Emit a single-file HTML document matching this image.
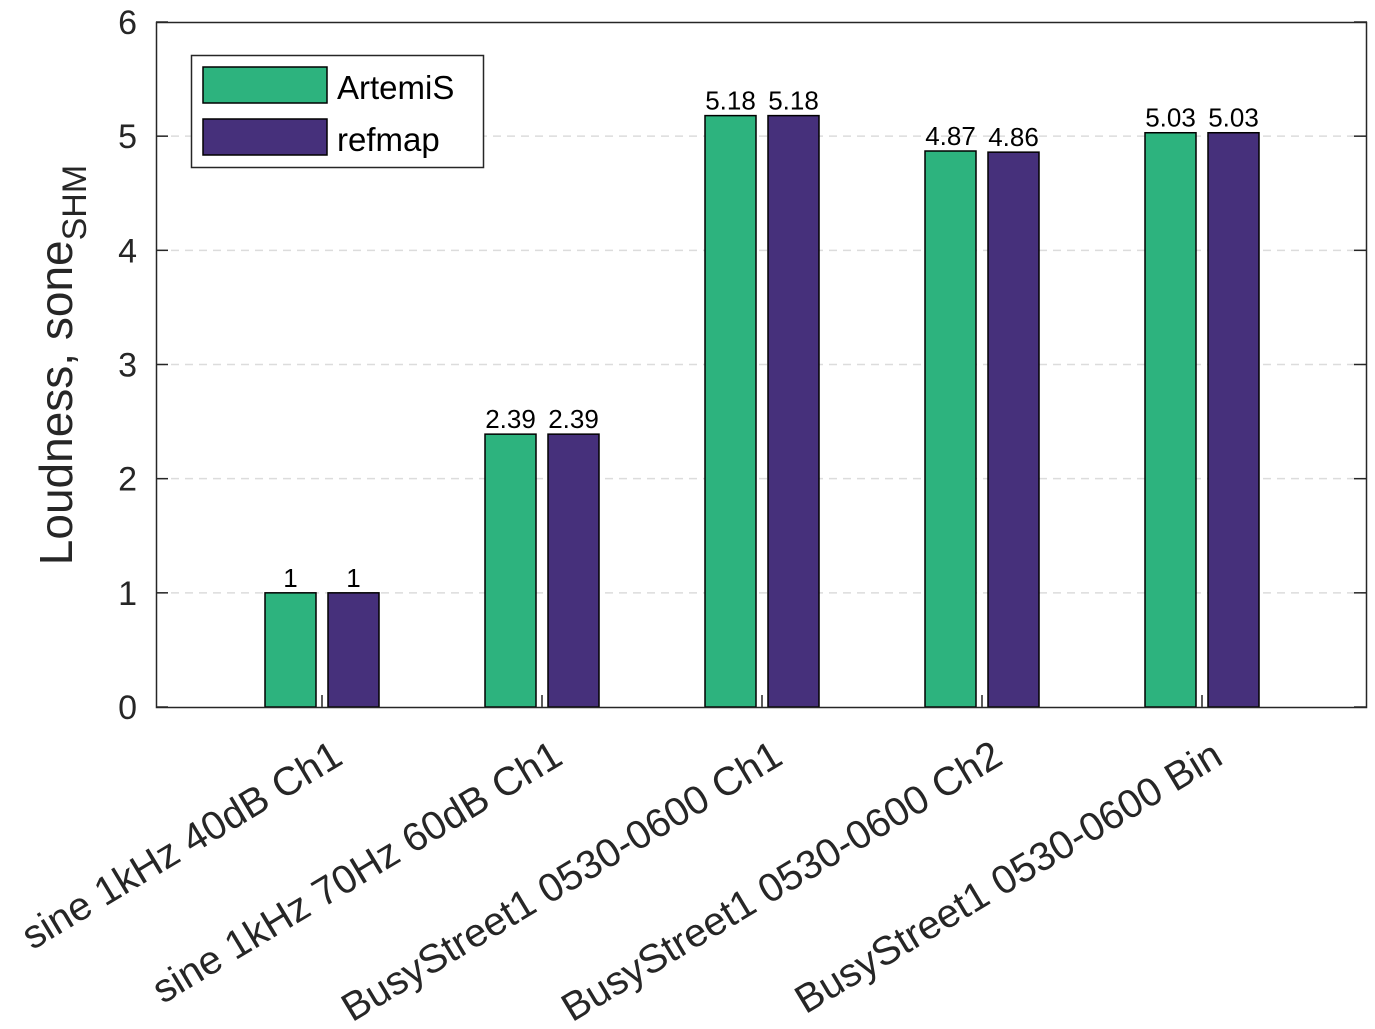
<!DOCTYPE html>
<html><head><meta charset="utf-8"><style>
html,body{margin:0;padding:0;background:#fff;}
svg{display:block;font-family:"Liberation Sans",Arial,sans-serif;}
</style></head><body>
<svg id="chart" width="1375" height="1029" viewBox="0 0 1375 1029">
<g id="grid"></g>
<g id="bars"></g>
<g id="vals"></g>
<rect x="156.5" y="22.5" width="1210" height="685" fill="none" stroke="#262626" stroke-width="1.5"/>
<g id="yticks"></g>
<g id="xticks"></g>
<text transform="translate(72,365) rotate(-90)" text-anchor="middle" font-size="46" fill="#262626">Loudness, sone<tspan font-size="34" dy="14">SHM</tspan></text>
<g>
<rect x="191.5" y="55.5" width="292" height="112" fill="#fff" stroke="#262626" stroke-width="1.5"/>
<rect x="203" y="67" width="124" height="36" fill="#2db37e" stroke="#000" stroke-width="1.5"/>
<text x="337" y="99" font-size="33" fill="#000">ArtemiS</text>
<rect x="203" y="119" width="124" height="36" fill="#46307b" stroke="#000" stroke-width="1.5"/>
<text x="337" y="151" font-size="33" fill="#000">refmap</text>
</g>
</svg>
<script>
const categories = ["sine 1kHz 40dB Ch1","sine 1kHz 70Hz 60dB Ch1","BusyStreet1 0530-0600 Ch1","BusyStreet1 0530-0600 Ch2","BusyStreet1 0530-0600 Bin"];
const artemis = [1, 2.39, 5.18, 4.87, 5.03];
const refmap = [1, 2.39, 5.18, 4.86, 5.03];
const artemisLabels = ["1","2.39","5.18","4.87","5.03"];
const refmapLabels = ["1","2.39","5.18","4.86","5.03"];
const yTicks = [0,1,2,3,4,5,6];

const NS = "http://www.w3.org/2000/svg";
function yScale(v){ return 707 - v * (685/6); }
function xScale(i){ return 322 + 220 * i; }
function mk(tag, attrs, parent){ const e=document.createElementNS(NS,tag); for(const k in attrs) e.setAttribute(k,attrs[k]); parent.appendChild(e); return e; }
const grid=document.getElementById('grid'), bars=document.getElementById('bars'), vals=document.getElementById('vals'), yt=document.getElementById('yticks'), xt=document.getElementById('xticks');

yTicks.forEach(t=>{
  const y=yScale(t);
  if(t>0 && t<6){
    const g=mk('line',{x1:157,x2:1366,y1:y,y2:y,stroke:'#dcdcdc','stroke-width':1.5,'stroke-dasharray':'8,6'},grid);
    
    
  }
  const l1=mk('line',{x1:156,x2:168,y1:y,y2:y,stroke:'#262626','stroke-width':1.5},yt);
  
  
  const l2=mk('line',{x1:1354,x2:1367,y1:y,y2:y,stroke:'#262626','stroke-width':1.5},yt);
  
  
  const tx=mk('text',{x:137,y:y+12,'text-anchor':'end','font-size':34,fill:'#262626'},yt);
  tx.textContent=t;
  
  
});

const bw=51, off=31.5;
categories.forEach((c,i)=>{
  const xc=xScale(i);
  [[artemis,artemisLabels,'#2db37e',-off,'artemis'],[refmap,refmapLabels,'#46307b',off,'refmap']].forEach(s=>{
    const v=s[0][i], cx=xc+s[3], y=yScale(v);
    const r=mk('rect',{x:cx-bw/2,y:y,width:bw,height:707-y,fill:s[2],stroke:'#000','stroke-width':1.5},bars);
    
    
    const t=mk('text',{x:cx,y:y-6,'text-anchor':'middle','font-size':26,fill:'#000'},vals);
    t.textContent=s[1][i];
    
    
  });
  const tk=mk('line',{x1:xc,x2:xc,y1:707,y2:695,stroke:'#262626','stroke-width':1.5},xt);
  
  
  const lb=mk('text',{x:0,y:0,'text-anchor':'end','font-size':40,fill:'#262626',dy:'0.72em',transform:'translate('+(xc+8)+',738) rotate(-31)'},xt);
  lb.textContent=c;
  
  
});
</script>
</body></html>
